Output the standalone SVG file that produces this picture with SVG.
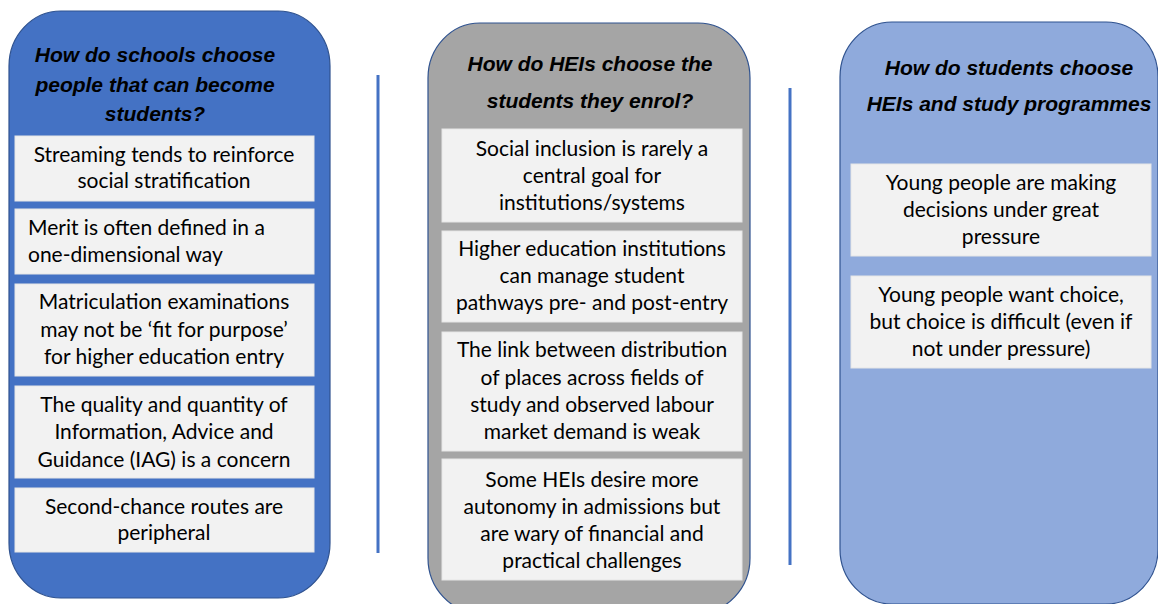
<svg xmlns="http://www.w3.org/2000/svg" width="1158" height="604" viewBox="0 0 1158 604">
<style>
.panel{stroke:#2F528F;stroke-width:1.2}
.p1{fill:#4472C4}
.p2{fill:#A5A5A5}
.p3{fill:#8FAADC}
.box{fill:#F2F2F2;stroke:#E6E6E6;stroke-width:1}
.title{font-family:"Liberation Sans",Arial,sans-serif;font-weight:bold;font-style:italic;font-size:21px;fill:#000;text-anchor:middle}
.t{font-family:Lato,"Liberation Sans",sans-serif;font-size:21px;fill:#000;text-anchor:middle}
.tl{font-family:Lato,"Liberation Sans",sans-serif;font-size:21px;fill:#000;text-anchor:start}
.div{stroke:#4472C4;stroke-width:3}
</style>
<rect width="1158" height="604" fill="#FFFFFF"/>
<g id="panel-schools">
<rect class="panel p1" x="9" y="11" width="321" height="587" rx="52" ry="55"/>
<text class="title" x="155" y="62">How do schools choose</text>
<text class="title" x="155" y="92">people that can become</text>
<text class="title" x="155" y="121">students?</text>
<g id="s1"><rect class="box" x="15" y="136" width="299" height="65"/>
<text class="t" x="164" y="162">Streaming tends to reinforce</text>
<text class="t" x="164" y="188">social stratification</text></g>
<g id="s2"><rect class="box" x="15" y="209" width="299" height="65"/>
<text class="tl" x="28" y="235">Merit is often defined in a</text>
<text class="tl" x="28" y="262">one-dimensional way</text></g>
<g id="s3"><rect class="box" x="15" y="284" width="299" height="92"/>
<text class="t" x="164" y="309">Matriculation examinations</text>
<text class="t" x="164" y="337">may not be ‘fit for purpose’</text>
<text class="t" x="164" y="364">for higher education entry</text></g>
<g id="s4"><rect class="box" x="15" y="386" width="299" height="92"/>
<text class="t" x="164" y="412">The quality and quantity of</text>
<text class="t" x="164" y="439">Information, Advice and</text>
<text class="t" x="164" y="467">Guidance (IAG) is a concern</text></g>
<g id="s5"><rect class="box" x="15" y="488" width="299" height="64"/>
<text class="t" x="164" y="514">Second-chance routes are</text>
<text class="t" x="164" y="540">peripheral</text></g>
</g>
<g id="panel-heis">
<rect class="panel p2" x="428" y="23" width="322" height="590" rx="52" ry="55"/>
<text class="title" x="590" y="71">How do HEIs choose the</text>
<text class="title" x="590" y="108">students they enrol?</text>
<g id="h1"><rect class="box" x="442" y="129" width="300" height="93"/>
<text class="t" x="592" y="156">Social inclusion is rarely a</text>
<text class="t" x="592" y="183">central goal for</text>
<text class="t" x="592" y="210">institutions/systems</text></g>
<g id="h2"><rect class="box" x="442" y="231" width="300" height="91"/>
<text class="t" x="592" y="256">Higher education institutions</text>
<text class="t" x="592" y="283">can manage student</text>
<text class="t" x="592" y="310">pathways pre- and post-entry</text></g>
<g id="h3"><rect class="box" x="442" y="332" width="300" height="119"/>
<text class="t" x="592" y="357">The link between distribution</text>
<text class="t" x="592" y="385">of places across fields of</text>
<text class="t" x="592" y="412">study and observed labour</text>
<text class="t" x="592" y="439">market demand is weak</text></g>
<g id="h4"><rect class="box" x="442" y="459" width="300" height="121"/>
<text class="t" x="592" y="487">Some HEIs desire more</text>
<text class="t" x="592" y="514">autonomy in admissions but</text>
<text class="t" x="592" y="541">are wary of financial and</text>
<text class="t" x="592" y="568">practical challenges</text></g>
</g>
<g id="panel-students">
<rect class="panel p3" x="840" y="22" width="318" height="582" rx="52" ry="55"/>
<text class="title" x="1009" y="75">How do students choose</text>
<text class="title" x="1009" y="111">HEIs and study programmes</text>
<g id="st1"><rect class="box" x="851" y="164" width="300" height="92"/>
<text class="t" x="1001" y="190">Young people are making</text>
<text class="t" x="1001" y="217">decisions under great</text>
<text class="t" x="1001" y="244">pressure</text></g>
<g id="st2"><rect class="box" x="851" y="276" width="300" height="92"/>
<text class="t" x="1001" y="302">Young people want choice,</text>
<text class="t" x="1001" y="329">but choice is difficult (even if</text>
<text class="t" x="1001" y="356">not under pressure)</text></g>
</g>
<g id="connectors">
<line class="div" x1="378" y1="75" x2="378" y2="553"/>
<line class="div" x1="790" y1="88" x2="790" y2="565"/>
</g>
</svg>
